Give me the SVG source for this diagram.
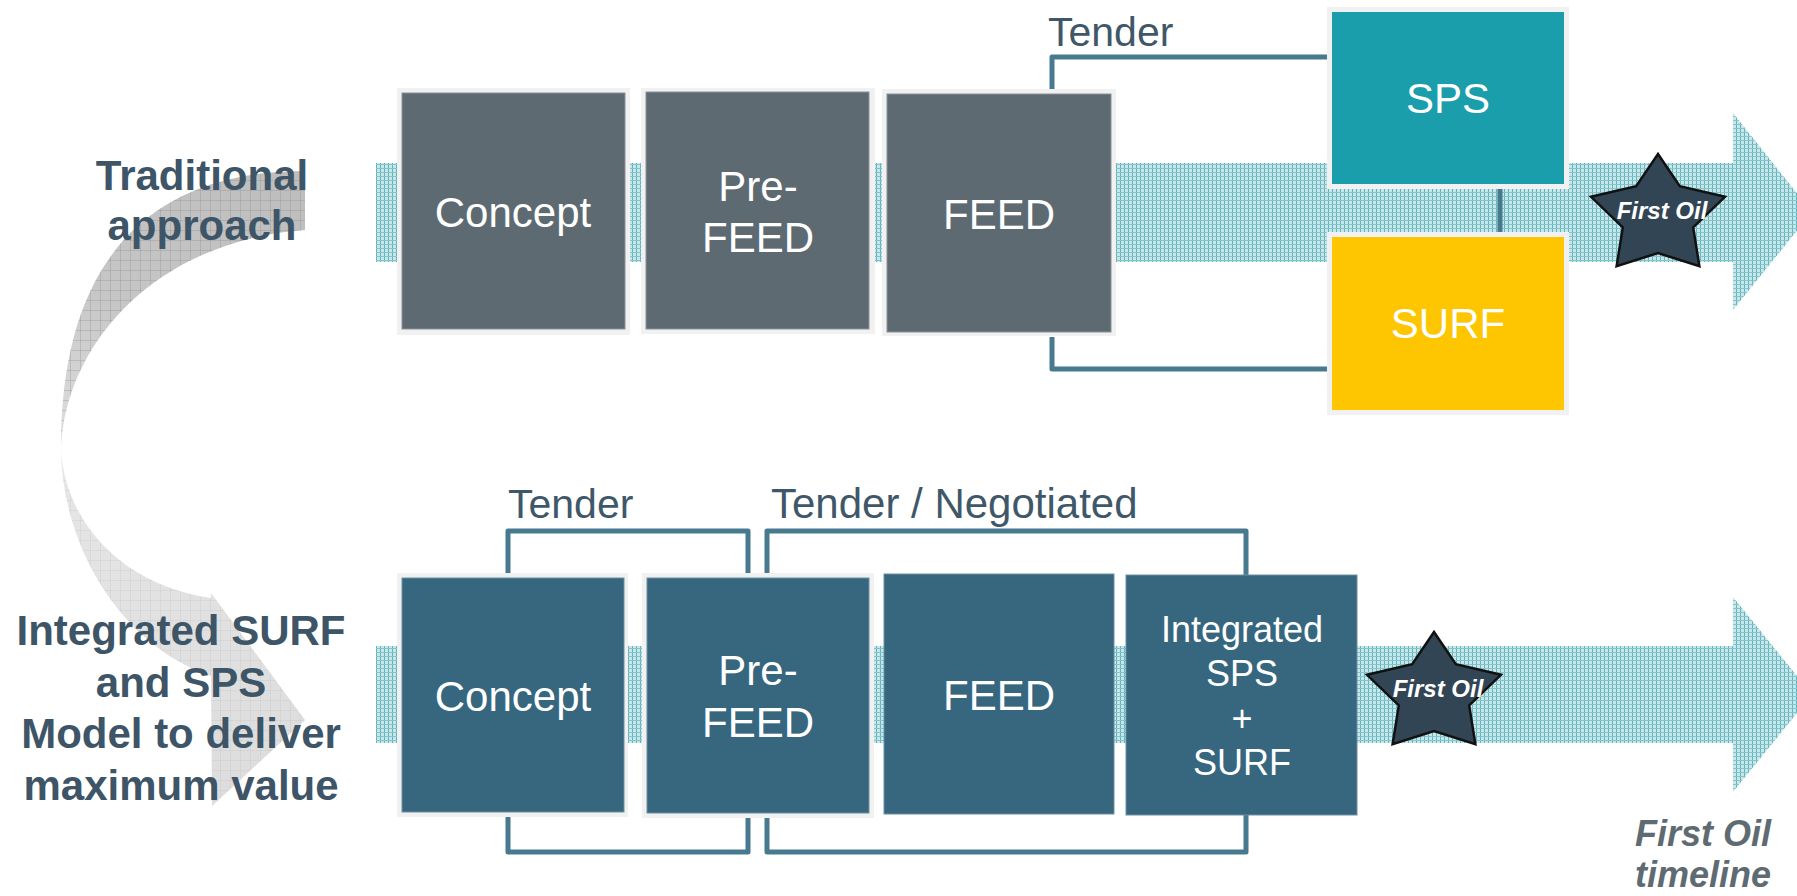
<svg xmlns="http://www.w3.org/2000/svg" width="1797" height="896" viewBox="0 0 1797 896">
<style>
.lbl{font-family:"Liberation Sans",Arial,sans-serif;fill:#ffffff;font-size:42px;text-anchor:middle}
.small{font-size:36px}
.side{font-family:"Liberation Sans",Arial,sans-serif;fill:#3d5567;font-size:42px;font-weight:bold;text-anchor:middle}
.tender{font-family:"Liberation Sans",Arial,sans-serif;fill:#3f5869;font-size:41px}
.tender42{font-size:42px}
.star{fill:#324555;stroke:#111111;stroke-width:2.5;stroke-linejoin:miter}
.startxt{font-family:"Liberation Sans",Arial,sans-serif;fill:#ffffff;font-size:24px;font-weight:bold;font-style:italic;text-anchor:middle}
.frame{fill:#f1f1f1}
.grey{fill:#5e6a72;stroke:#8a9299;stroke-width:1}
.blue{fill:#37677f;stroke:#6d8fa0;stroke-width:1}
.br{fill:none;stroke:#47798f;stroke-width:5;stroke-linejoin:round}
.tl{font-family:"Liberation Sans",Arial,sans-serif;font-size:36px;font-weight:bold;font-style:italic;fill:#5f6b73;text-anchor:middle}
</style>
<defs>
<pattern id="hatch" width="4" height="4" patternUnits="userSpaceOnUse">
<rect width="4" height="4" fill="#c8e7ea"/>
<rect x="0" y="0" width="1" height="4" fill="#62b3bc"/>
<rect x="0" y="0" width="4" height="1" fill="#84c4cb"/>
</pattern>
<pattern id="ggrid" width="10" height="10" patternUnits="userSpaceOnUse">
<rect x="0" y="0" width="1" height="10" fill="#8e8e8e" fill-opacity="0.35"/>
<rect x="0" y="0" width="10" height="1" fill="#8e8e8e" fill-opacity="0.35"/>
</pattern>
<pattern id="ggridl" width="10" height="10" patternUnits="userSpaceOnUse">
<rect x="0" y="0" width="1" height="10" fill="#bdbdbd" fill-opacity="0.25"/>
<rect x="0" y="0" width="10" height="1" fill="#bdbdbd" fill-opacity="0.25"/>
</pattern>
<linearGradient id="gUp" x1="305" y1="170" x2="61" y2="450" gradientUnits="userSpaceOnUse">
<stop offset="0" stop-color="#bdbdbd"/>
<stop offset="0.6" stop-color="#c6c6c6"/>
<stop offset="1" stop-color="#dedede"/>
</linearGradient>
<linearGradient id="gLow" x1="61" y1="450" x2="305" y2="800" gradientUnits="userSpaceOnUse">
<stop offset="0" stop-color="#e6e6e6"/>
<stop offset="1" stop-color="#dcdcdc"/>
</linearGradient>
</defs>
<rect width="1797" height="896" fill="#ffffff"/>

<g id="curved-arrow">
<path d="M305,171 C150,171 60,260 61,450 C65,340 160,240 305,230 Z" fill="url(#gUp)"/>
<path d="M305,171 C150,171 60,260 61,450 C65,340 160,240 305,230 Z" fill="url(#ggrid)"/>
<path d="M61,450 C65,520 120,585 211,598 L211,593 L305,720 L212,806 L211,676 C120,645 62,545 61,450 Z" fill="url(#gLow)"/>
<path d="M61,450 C65,520 120,585 211,598 L211,593 L305,720 L212,806 L211,676 C120,645 62,545 61,450 Z" fill="url(#ggridl)"/>
</g>

<g id="timeline-arrows">
<path d="M376,163 H1733 V113 L1812,212 L1733,310 V262 H376 Z" fill="url(#hatch)"/>
<path d="M376,646 H1733 V597 L1812,694.5 L1733,792 V743 H376 Z" fill="url(#hatch)"/>
</g>

<g id="side-labels">
<text class="side" x="202" y="190">Traditional</text>
<text class="side" x="202" y="240">approach</text>
<text class="side" x="181" y="645">Integrated SURF</text>
<text class="side" x="181" y="697">and SPS</text>
<text class="side" x="181" y="748">Model to deliver</text>
<text class="side" x="181" y="800">maximum value</text>
</g>

<g id="connectors">
<path class="br" d="M1327,57 H1052 V89"/>
<path class="br" d="M1052,337 V369 H1327"/>
<path class="br" d="M1500,189 V232"/>
<path class="br" d="M508,573 V531 H748 V573"/>
<path class="br" d="M508,817 V852 H748 V818"/>
<path class="br" d="M767,573 V531 H1246 V575"/>
<path class="br" d="M767,818 V852 H1246 V815"/>
</g>

<g id="tender-labels">
<text class="tender" x="1048" y="46">Tender</text>
<text class="tender" x="508" y="518">Tender</text>
<text class="tender tender42" x="771" y="518">Tender / Negotiated</text>
</g>

<g id="top-concept">
<rect class="frame" x="397" y="88" width="233" height="247"/>
<rect class="grey" x="402" y="93" width="223" height="236"/>
<text class="lbl" x="513" y="227">Concept</text>
</g>
<g id="top-prefeed">
<rect class="frame" x="641" y="88" width="234" height="246"/>
<rect class="grey" x="646" y="92" width="223" height="237"/>
<text class="lbl" x="758" y="201">Pre-</text>
<text class="lbl" x="758" y="252">FEED</text>
</g>
<g id="top-feed">
<rect class="frame" x="882" y="89" width="234" height="247"/>
<rect class="grey" x="887" y="94" width="224" height="238"/>
<text class="lbl" x="999" y="229">FEED</text>
</g>
<g id="sps">
<rect class="frame" x="1327" y="7" width="242" height="182"/>
<rect x="1332" y="12" width="232" height="172" fill="#1b9eab"/>
<text class="lbl" x="1448" y="113">SPS</text>
</g>
<g id="surf">
<rect class="frame" x="1327" y="232" width="242" height="183"/>
<rect x="1332" y="237" width="232" height="173" fill="#fdc600"/>
<text class="lbl" x="1448" y="338">SURF</text>
</g>
<g id="top-first-oil">
<polygon class="star" points="1658,154 1679.8,186.1 1725,196.8 1693.2,227.4 1699.4,266.2 1658,253 1616.6,266.2 1622.8,227.4 1591,196.8 1636.2,186.1"/>
<text class="startxt" x="1662" y="219">First Oil</text>
</g>

<g id="bottom-concept">
<rect class="frame" x="397" y="573" width="231" height="244"/>
<rect class="blue" x="402" y="578" width="222" height="234"/>
<text class="lbl" x="513" y="711">Concept</text>
</g>
<g id="bottom-prefeed">
<rect class="frame" x="642" y="573" width="232" height="245"/>
<rect class="blue" x="647" y="578" width="222" height="235"/>
<text class="lbl" x="758" y="685">Pre-</text>
<text class="lbl" x="758" y="737">FEED</text>
</g>
<g id="bottom-feed">
<rect class="blue" x="884" y="574" width="230" height="240"/>
<text class="lbl" x="999" y="710">FEED</text>
</g>
<g id="bottom-integrated">
<rect class="blue" x="1126" y="575" width="231" height="240"/>
<text class="lbl small" x="1242" y="642">Integrated</text>
<text class="lbl small" x="1242" y="686">SPS</text>
<text class="lbl small" x="1242" y="731">+</text>
<text class="lbl small" x="1242" y="775">SURF</text>
</g>
<g id="bottom-first-oil">
<polygon class="star" points="1434,632 1455.8,664.1 1501,674.8 1469.2,705.4 1475.4,744.2 1434,731 1392.6,744.2 1398.8,705.4 1367,674.8 1412.2,664.1"/>
<text class="startxt" x="1438" y="697">First Oil</text>
</g>

<g id="timeline-label">
<text class="tl" x="1703" y="846">First Oil</text>
<text class="tl" x="1703" y="887">timeline</text>
</g>
</svg>
